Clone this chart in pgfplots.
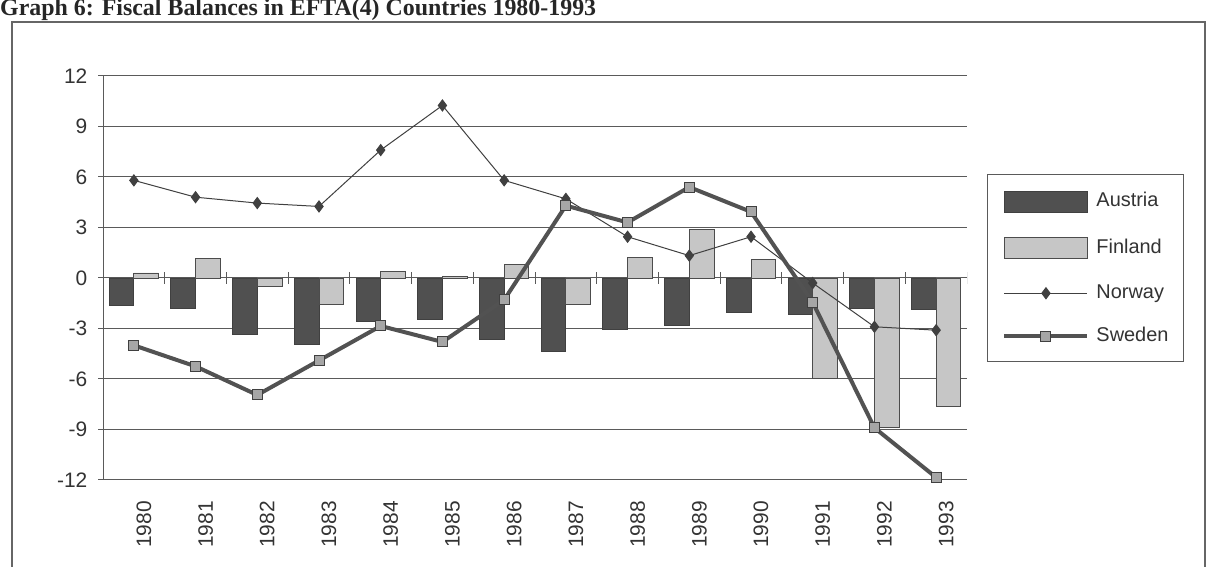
\documentclass[border=0pt]{standalone}
\usepackage{fontspec}
\setmainfont{Liberation Sans}
\newfontfamily\titlefont{Liberation Serif}
\usepackage{pgfplots}
\pgfplotsset{compat=1.18}

\definecolor{austria}{HTML}{505050}
\definecolor{finland}{HTML}{C6C6C6}
\definecolor{gridc}{HTML}{5A5A5A}
\definecolor{txt}{HTML}{333333}

\pgfplotsset{
  linelegend/.style={legend image code/.code={\draw[##1, mark repeat=2, mark phase=2] plot coordinates {(0bp,0bp) (41.5bp,0bp) (83bp,0bp)};}},
  austrialegend/.style={legend image code/.code={\draw[fill=austria, draw=black!75, line width=0.8bp] (0bp,-10.5bp) rectangle (83bp,10.5bp);}},
  finlandlegend/.style={legend image code/.code={\draw[fill=finland, draw=black!70, line width=0.8bp] (0bp,-10.5bp) rectangle (83bp,10.5bp);}},
}

\begin{document}
\begin{tikzpicture}[x=1bp,y=1bp]
\path[use as bounding box] (0,0) rectangle (1208,567);
\draw[black!60, line width=1.3bp] (12,-5) -- (12,545) -- (1205,545) -- (1205,-5);
\node[anchor=base west, inner sep=0pt, font=\titlefont\bfseries\fontsize{24}{28}\selectfont, text=black!85] at (0,551) {Graph 6: Fiscal Balances in EFTA(4) Countries 1980-1993};

\begin{axis}[
  at={(103bp,87bp)}, anchor=south west,
  scale only axis, width=864bp, height=404bp,
  xmin=-0.5, xmax=13.5, ymin=-12, ymax=12,
  ytick={-12,-9,-6,-3,0,3,6,9,12},
  xtick={0,1,2,3,4,5,6,7,8,9,10,11,12,13},
  xticklabels={1980,1981,1982,1983,1984,1985,1986,1987,1988,1989,1990,1991,1992,1993},
  axis lines*=left,
  axis line style={gridc, line width=1bp, -},
  ymajorgrids, grid style={gridc, line width=1bp},
  tick align=outside, major tick length=5bp,
  ytick style={gridc, line width=1bp},
  xtick style={draw=none},
  /pgf/number format/assume math mode=true,
  yticklabel style={font=\fontsize{21}{24}\selectfont, text=txt, inner sep=0pt, xshift=-10.5bp},
  xticklabel style={font=\fontsize{21}{24}\selectfont, text=txt, rotate=90, anchor=east, inner sep=0pt, yshift=-10bp, xshift=-16bp},
  legend style={at={(1.0231,0.757)}, anchor=north west, draw=gridc, line width=1bp, fill=white,
    inner xsep=15bp, inner ysep=16bp, row sep=25bp, column sep=7bp,
    font=\fontsize{20}{22}\selectfont,
    nodes={inner sep=0pt, text height=14bp, text depth=4bp, text=txt}},
  legend cell align=left,
]
\pgfplotsinvokeforeach{0.5,1.5,2.5,3.5,4.5,5.5,6.5,7.5,8.5,9.5,10.5,11.5,12.5,13.5}{
  \draw[gridc, line width=1bp] ([yshift=-6bp]axis cs:#1,0) -- ([yshift=6bp]axis cs:#1,0);
}
\addplot[ybar, bar width=0.4, bar shift=-0.2, fill=austria, draw=black!75, line width=0.8bp, austrialegend]
coordinates {(0,-1.65) (1,-1.78) (2,-3.35) (3,-3.93) (4,-2.56) (5,-2.46) (6,-3.66) (7,-4.35) (8,-3.05) (9,-2.80) (10,-2.05) (11,-2.15) (12,-1.82) (13,-1.85)};
\addlegendentry{Austria}
\addplot[ybar, bar width=0.4, bar shift=0.2, fill=finland, draw=black!70, line width=0.8bp, finlandlegend]
coordinates {(0,0.30) (1,1.17) (2,-0.50) (3,-1.58) (4,0.40) (5,0.10) (6,0.80) (7,-1.57) (8,1.23) (9,2.90) (10,1.12) (11,-5.95) (12,-8.85) (13,-7.65)};
\addlegendentry{Finland}
\addplot[color=black!75, line width=1bp, mark=diamond*, mark size=5.5bp, mark options={fill=black!75}, linelegend]
coordinates {(0,5.80) (1,4.80) (2,4.45) (3,4.25) (4,7.60) (5,10.25) (6,5.80) (7,4.70) (8,2.45) (9,1.33) (10,2.45) (11,-0.30) (12,-2.90) (13,-3.10)};
\addlegendentry{Norway}
\addplot[color=black!68, line width=4bp, mark=square*, mark size=5bp, mark options={fill=black!35, draw=black!75, line width=1bp}, linelegend]
coordinates {(0,-4.00) (1,-5.25) (2,-6.95) (3,-4.90) (4,-2.85) (5,-3.80) (6,-1.30) (7,4.30) (8,3.30) (9,5.40) (10,3.93) (11,-1.45) (12,-8.90) (13,-11.85)};
\addlegendentry{Sweden}
\end{axis}
\end{tikzpicture}
\end{document}
